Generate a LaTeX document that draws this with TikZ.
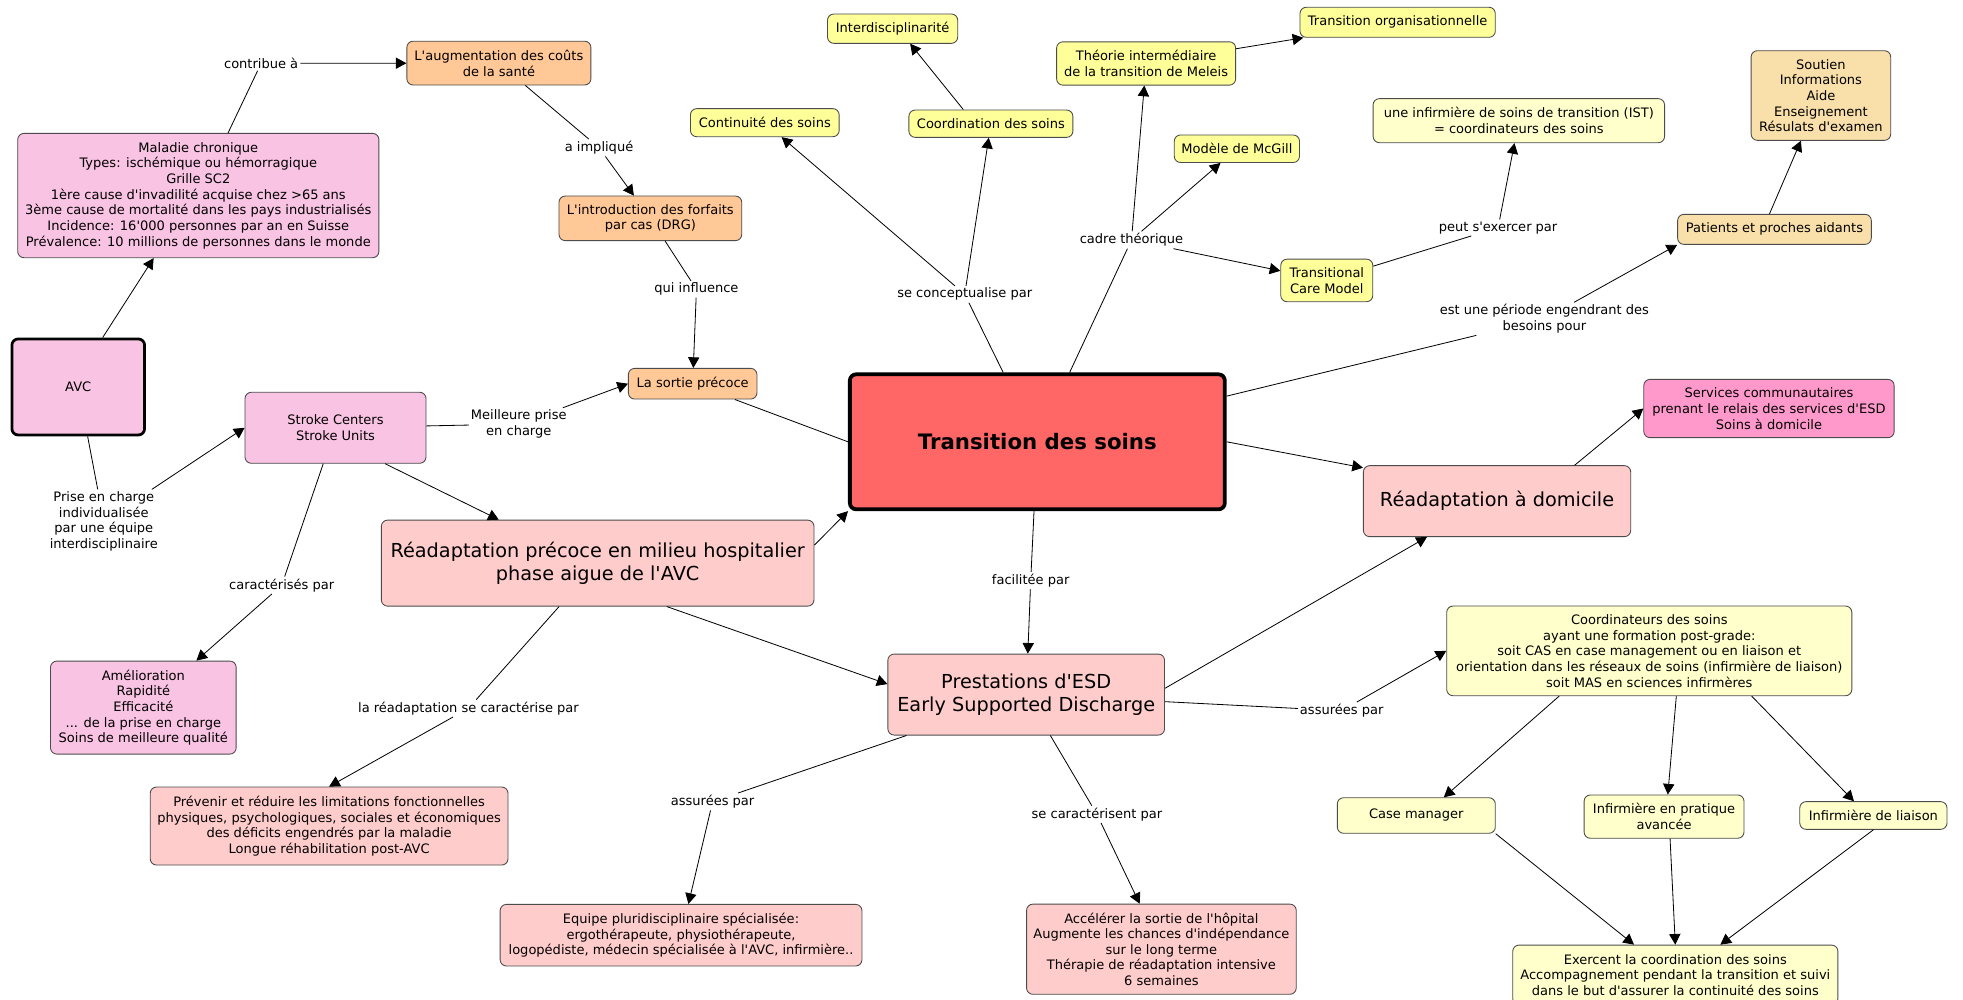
\documentclass[tikz,border=0pt]{standalone}
\usepackage{fontspec}
\setmainfont{DejaVu Sans}[Ligatures=TeXOff]
\usetikzlibrary{arrows.meta,calc}
\definecolor{cpink}{HTML}{F9C3E3}
\definecolor{corange}{HTML}{FFC896}
\definecolor{csalmon}{HTML}{FFCCCC}
\definecolor{cred}{HTML}{FF6666}
\definecolor{cyellow}{HTML}{FFFF99}
\definecolor{cpale}{HTML}{FFFFCC}
\definecolor{cwheat}{HTML}{F9E0AA}
\definecolor{cspink}{HTML}{FF99CC}
\newcommand\fsmall{\fontsize{10.4}{12.5}\selectfont}
\newcommand\fbig{\fontsize{15.4}{18.6}\selectfont}
\newcommand\ftitle{\fontsize{17}{20}\selectfont\bfseries}
\begin{document}
\begin{tikzpicture}[x=1pt,y=-1pt,
  box/.style={draw=black!70, line width=0.7pt, rounded corners=5pt, align=center, inner sep=2pt, font=\fsmall},
  bigbox/.style={box, font=\fbig},
  lbl/.style={align=center, inner sep=1.5pt, font=\fsmall},
  con/.style={line width=0.65pt, draw=black},
  arr/.style={con, -{Triangle[length=8.5pt,width=9pt]}}]
\useasboundingbox (0,0) rectangle (1568,798);
\clip (0,0) rectangle (1568,798);
\fill[white] (0,0) rectangle (1568,798);

% nodes
\node[box, fill=corange, minimum width=147pt, minimum height=35pt] (aug) at (398.5,50.4) {L'augmentation des coûts\\de la santé};
\node[box, fill=cpink, minimum width=288.5pt, minimum height=99.3pt] (mal) at (158.4,156.2) {Maladie chronique\\Types: ischémique ou hémorragique\\Grille SC2\\1ère cause d'invadilité acquise chez >65 ans\\3ème cause de mortalité dans les pays industrialisés\\Incidence: 16'000 personnes par an en Suisse\\Prévalence: 10 millions de personnes dans le monde};
\node[box, fill=corange, minimum width=146pt, minimum height=35.6pt] (drg) at (519.5,174.4) {L'introduction des forfaits\\par cas (DRG)};
\node[box, fill=corange, minimum width=102.7pt, minimum height=24.5pt] (sortie) at (553.3,306.5) {La sortie précoce};
\node[box, fill=cpink, draw=black, line width=2.2pt, minimum width=106pt, minimum height=76.7pt] (avc) at (62.5,309.1) {AVC};
\node[box, fill=cpink, minimum width=144.6pt, minimum height=56.7pt] (stroke) at (268,341.7) {Stroke Centers\\Stroke Units};
\node[box, fill=cpink, minimum width=148.3pt, minimum height=74.3pt] (amel) at (114.5,565.2) {Amélioration\\Rapidité\\Efficacité\\... de la prise en charge\\Soins de meilleure qualité};
\node[bigbox, fill=csalmon, minimum width=345.6pt, minimum height=68.7pt] (rprec) at (477.4,449.8) {Réadaptation précoce en milieu hospitalier\\phase aigue de l'AVC};
\node[box, fill=csalmon, minimum width=285.8pt, minimum height=62.3pt] (prev) at (262.9,659.8) {Prévenir et réduire les limitations fonctionnelles\\physiques, psychologiques, sociales et économiques\\des déficits engendrés par la maladie\\Longue réhabilitation post-AVC};
\node[box, fill=cred, draw=black, line width=3pt, font=\ftitle, minimum width=299.5pt, minimum height=107.8pt] (trans) at (828.6,352.9) {Transition des soins};
\node[box, fill=cyellow, minimum width=118.8pt, minimum height=22.4pt] (cont) at (610.9,98) {Continuité des soins};
\node[box, fill=cyellow, minimum width=131pt, minimum height=21.8pt] (coso) at (791.5,98.8) {Coordination des soins};
\node[box, fill=cyellow, minimum width=104pt, minimum height=23.4pt] (inter) at (713,22.9) {Interdisciplinarité};
\node[box, fill=cyellow, minimum width=143pt, minimum height=34.6pt] (theo) at (915.5,50.7) {Théorie intermédiaire\\de la transition de Meleis};
\node[box, fill=cyellow, minimum width=156pt, minimum height=24pt] (torg) at (1116.4,17.8) {Transition organisationnelle};
\node[box, fill=cyellow, minimum width=100pt, minimum height=22pt] (mcg) at (988,118.8) {Modèle de McGill};
\node[box, fill=cyellow, minimum width=73.5pt, minimum height=34pt] (tcm) at (1059.8,224) {Transitional\\Care Model};
\node[box, fill=cpale, minimum width=232.8pt, minimum height=35.2pt] (ist) at (1213.2,96.4) {une infirmière de soins de transition (IST)\\= coordinateurs des soins};
\node[box, fill=cwheat, minimum width=111.5pt, minimum height=71.6pt] (sout) at (1454.5,76.3) {Soutien\\Informations\\Aide\\Enseignement\\Résulats d'examen};
\node[box, fill=cwheat, minimum width=154.7pt, minimum height=24pt] (pat) at (1417.4,183.2) {Patients et proches aidants};
\node[box, fill=cspink, minimum width=200pt, minimum height=46.6pt] (serv) at (1413,326.3) {Services communautaires\\prenant le relais des services d'ESD\\Soins à domicile};
\node[bigbox, fill=csalmon, minimum width=213.5pt, minimum height=56.7pt] (rdom) at (1195.8,400.3) {Réadaptation à domicile};
\node[bigbox, fill=csalmon, minimum width=221pt, minimum height=64.7pt] (prest) at (819.7,554.8) {Prestations d'ESD\\Early Supported Discharge};
\node[box, fill=csalmon, minimum width=289pt, minimum height=49.2pt] (equ) at (544,747) {Equipe pluridisciplinaire spécialisée:\\ergothérapeute, physiothérapeute,\\logopédiste, médecin spécialisée à l'AVC, infirmière..};
\node[box, fill=csalmon, minimum width=215.4pt, minimum height=72pt] (acc) at (927.7,758.2) {Accélérer la sortie de l'hôpital\\Augmente les chances d'indépendance\\sur le long terme\\Thérapie de réadaptation intensive\\6 semaines};
\node[box, fill=cpale, minimum width=323.6pt, minimum height=71.6pt] (coord) at (1317.4,519.9) {Coordinateurs des soins\\ayant une formation post-grade:\\soit CAS en case management ou en liaison et\\orientation dans les réseaux de soins (infirmière de liaison)\\soit MAS en sciences infirmères};
\node[box, fill=cpale, minimum width=126.2pt, minimum height=28.4pt] (case) at (1131.3,651.4) {Case manager};
\node[box, fill=cpale, minimum width=127.7pt, minimum height=34.6pt] (ipa) at (1329.2,652.3) {Infirmière en pratique\\avancée};
\node[box, fill=cpale, minimum width=117.6pt, minimum height=22.1pt] (liais) at (1496.4,651.4) {Infirmière de liaison};
\node[box, fill=cpale, minimum width=259.7pt, minimum height=47.8pt] (exer) at (1338.2,778.8) {Exercent la coordination des soins\\Accompagnement pendant la transition et suivi\\dans le but d'assurer la continuité des soins};

% labels
\node[lbl] (l1) at (208.6,50.6) {contribue à};
\node[lbl] (l2) at (478.5,118) {a impliqué};
\node[lbl] (l3) at (556.3,231.1) {qui influence};
\node[lbl] (l4) at (82.9,416.4) {Prise en charge\\individualisée\\par une équipe\\interdisciplinaire};
\node[lbl] (l5) at (414.4,338.7) {Meilleure prise\\en charge};
\node[lbl] (l6) at (225,467.5) {caractérisés par};
\node[lbl] (l7) at (374.2,565.8) {la réadaptation se caractérise par};
\node[lbl] (l8) at (770.6,235.1) {se conceptualise par};
\node[lbl] (l9) at (903.8,191.7) {cadre théorique};
\node[lbl] (l10) at (1196.6,181.9) {peut s'exercer par};
\node[lbl] (l11) at (1233.6,254.7) {est une période engendrant des\\besoins pour};
\node[lbl] (l12) at (823.3,463.8) {facilitée par};
\node[lbl] (l13) at (569.2,640.4) {assurées par};
\node[lbl] (l14) at (876.2,650.5) {se caractérisent par};
\node[lbl] (l15) at (1071.7,567.7) {assurées par};

% connectors
\draw[arr] ($(avc.north)+(19.5,0)$) -- ($(mal.south)+(-35.7,0)$);
\draw[con] (mal) -- (l1);
\draw[arr] (l1) -- (aug);
\draw[con] (aug) -- (l2);
\draw[arr] (l2) -- (drg);
\draw[con] (drg) -- (l3);
\draw[arr] (l3) -- (sortie);
\draw[con] (avc) -- (l4);
\draw[arr] (l4) -- (stroke.west);
\draw[con] (stroke) -- (l5);
\draw[arr] (l5) -- (sortie.west);
\draw[con] (stroke) -- (l6);
\draw[arr] (l6) -- (amel);
\draw[arr] ($(stroke.south)+(39.6,0)$) -- ($(rprec.north)+(-79,0)$);
\draw[con] (sortie) -- (trans.west);
\draw[arr] ($(rprec.east)+(0,-14.4)$) -- (trans.south west);
\draw[arr] ($(rprec.south)+(55.2,0)$) -- ($(prest.west)+(0,-8.4)$);
\draw[con] (rprec) -- (l7);
\draw[arr] (l7) -- (prev.north);
\draw[con] (trans) -- (l8);
\draw[arr] (l8) -- (cont);
\draw[arr] (l8) -- (coso);
\draw[arr] ($(coso.north)+(-22,0)$) -- ($(inter.south)+(14,0)$);
\draw[con] (trans) -- (l9);
\draw[arr] (l9) -- (theo);
\draw[arr] (l9) -- (mcg);
\draw[arr] (l9) -- (tcm);
\draw[arr] (theo) -- (torg);
\draw[con] (tcm) -- (l10);
\draw[arr] (l10) -- (ist);
\draw[con] (trans) -- (l11);
\draw[arr] (l11) -- (pat.south west);
\draw[arr] ($(pat.north)+(-4,0)$) -- ($(sout.south)+(-16,0)$);
\draw[arr] (trans.east) -- ($(rdom.north west)+(0,2)$);
\draw[arr] ($(rdom.north)+(62,0)$) -- (serv.west);
\draw[con] (trans) -- (l12);
\draw[arr] (l12) -- (prest);
\draw[arr] ($(prest.east)+(0,-5)$) -- ($(rdom.south)+(-56,0)$);
\draw[con] (prest) -- (l13);
\draw[arr] (l13) -- (equ);
\draw[con] (prest) -- (l14);
\draw[arr] (l14) -- (acc);
\draw[con] (prest) -- (l15);
\draw[arr] (l15) -- (coord.west);
\draw[arr] ($(coord.south)+(-72,0)$) -- ($(case.north)+(22,0)$);
\draw[arr] ($(coord.south)+(21.6,0)$) -- ($(ipa.north)+(3,0)$);
\draw[arr] ($(coord.south)+(81.8,0)$) -- ($(liais.north)+(-15.5,0)$);
\draw[arr] (case.south east) -- ($(exer.north)+(-33,0)$);
\draw[arr] ($(ipa.south)+(4.8,0)$) -- (exer.north);
\draw[arr] (liais.south) -- ($(exer.north)+(36,0)$);
\end{tikzpicture}
\end{document}
